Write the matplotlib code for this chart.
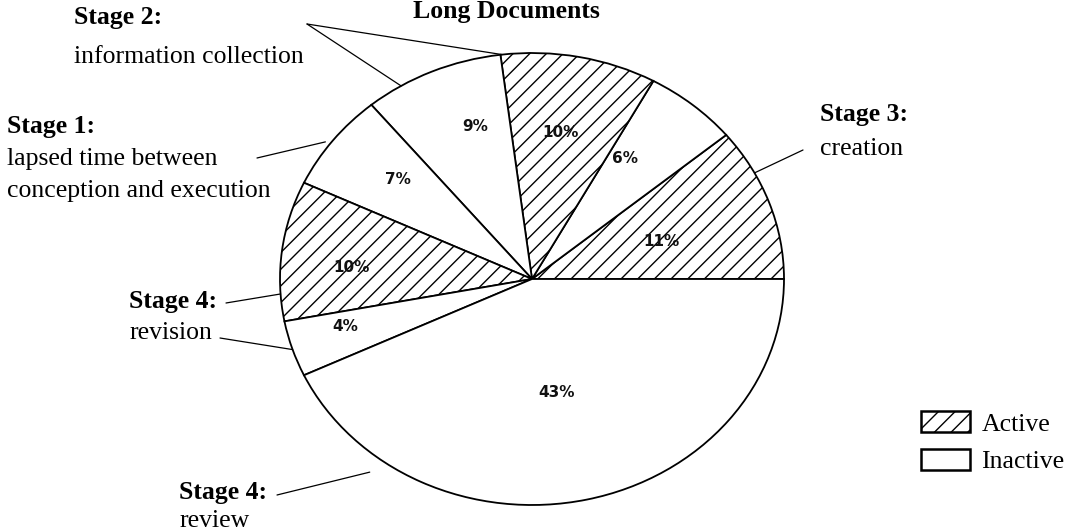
import numpy as np
import matplotlib
matplotlib.use("Agg")
import matplotlib.pyplot as plt
from matplotlib.patches import Patch

# ---------------- data ----------------
title = "Long Documents"
shares = [11, 6, 10, 9, 7, 10, 4, 43]          # percent, counter-clockwise from 3 o'clock
active = [True, False, True, False, False, True, False, False]
legend_labels = ["Active", "Inactive"]

stage_heads = ["Stage 2:", "Stage 1:", "Stage 3:", "Stage 4:", "Stage 4:"]
stage_texts = [["information collection"],
               ["lapsed time between", "conception and execution"],
               ["creation"],
               ["revision"],
               ["review"]]

# ---------------- layout ----------------
W, H = 1065, 531
plt.rcParams["hatch.linewidth"] = 1.0
fig = plt.figure(figsize=(W / 100, H / 100), dpi=100)
fig.patch.set_facecolor("white")

cx, cy, rx, ry = 532, 279, 252, 226
ax = fig.add_axes([(cx - rx) / W, (H - cy - ry) / H, 2 * rx / W, 2 * ry / H])
wedges, _ = ax.pie(shares, startangle=0, counterclock=True,
                   colors=["white"] * len(shares),
                   hatch=["//" if a else "" for a in active],
                   wedgeprops=dict(edgecolor="black", linewidth=1.3))
ax.set_xlim(-1, 1)
ax.set_ylim(-1, 1)
ax.set_aspect("auto")
ax.axis("off")
for w in wedges:
    w.set_clip_on(False)

# percentage labels
pct_r = [0.54, 0.65, 0.66, 0.71, 0.69, 0.72, 0.77, 0.51]
pct_off = [-2, 5, 1, -5, -2, 3, -2, -1.5]
for i, w in enumerate(wedges):
    a = np.deg2rad((w.theta1 + w.theta2) / 2 + pct_off[i])
    ax.text(pct_r[i] * np.cos(a), pct_r[i] * np.sin(a), f"{shares[i]}%",
            ha="center", va="center", fontsize=11, fontweight="bold",
            family="DejaVu Sans", color="#111111")

SERIF = "Liberation Serif"
FS = 18.5


def ftext(x, y, s, bold=False, **kw):
    fig.text(x / W, 1 - y / H, s, ha="left", va="baseline", fontsize=FS,
             family=SERIF, fontweight="bold" if bold else "normal", **kw)


ftext(413, 18, title, bold=True)

# stage labels: (x, baseline of head, baselines of following lines)
stage_pos = [(74, 24, [63]),
             (7, 133, [165, 197]),
             (820, 121, [155]),
             (129, 308, [339]),
             (179, 499, [527])]
for head, lines, (x, yb, ybs) in zip(stage_heads, stage_texts, stage_pos):
    ftext(x, yb, head, bold=True)
    for s, y in zip(lines, ybs):
        ftext(x, y, s)

# leader lines: start (figure pixels) -> point on pie (angle deg, radius)
leaders = [((307, 24), 96.8, 1.0),
           ((307, 24), 121.3, 1.0),
           ((257, 158), 143.5, 1.02),
           ((803, 150), 28.0, 1.0),
           ((226, 303), 183.8, 1.0),
           ((220, 338), 198.2, 1.0),
           ((277, 495), 233.0, 1.07)]
for (sx, sy), ang, r in leaders:
    a = np.deg2rad(ang)
    ax.annotate("", xy=(r * np.cos(a), r * np.sin(a)), xycoords="data",
                xytext=(sx / W, 1 - sy / H), textcoords="figure fraction",
                arrowprops=dict(arrowstyle="-", lw=0.9, color="black",
                                shrinkA=0, shrinkB=0))

handles = [Patch(facecolor="white", edgecolor="black", hatch="//", linewidth=1.8),
           Patch(facecolor="white", edgecolor="black", linewidth=1.8)]
fig.legend(handles, legend_labels, loc="upper left",
           bbox_to_anchor=(921 / W, 1 - 411 / H), frameon=False,
           prop=dict(family=SERIF, size=FS), handlelength=1.9,
           handleheight=0.9, handletextpad=0.45, labelspacing=0.52,
           borderpad=0, borderaxespad=0)

fig.savefig("out.png", dpi=100, facecolor="white")
